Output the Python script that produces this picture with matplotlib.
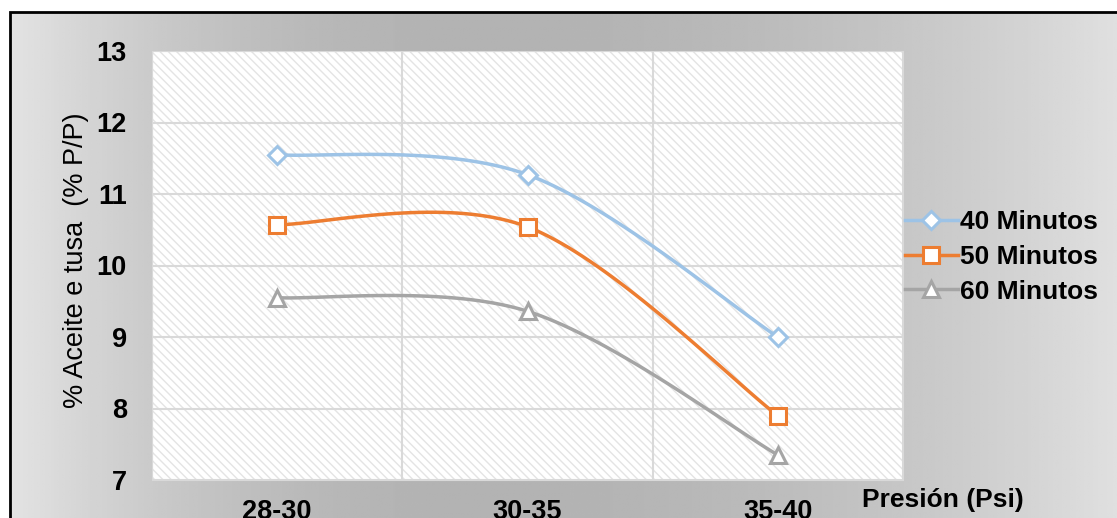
import numpy as np
import matplotlib
matplotlib.use("Agg")
import matplotlib.pyplot as plt
from matplotlib.patches import Rectangle
from matplotlib.lines import Line2D

plt.rcParams['font.family'] = ['Liberation Sans', 'DejaVu Sans']
plt.rcParams['hatch.color'] = '#e4e4e4'
plt.rcParams['hatch.linewidth'] = 1.0

categories = ['28-30', '30-35', '35-40']
series_names = ['40 Minutos', '50 Minutos', '60 Minutos']
min40 = [11.55, 11.27, 9.00]
min50 = [10.57, 10.54, 7.90]
min60 = [9.55, 9.36, 7.35]
y_ticks = [7, 8, 9, 10, 11, 12, 13]

colors = ['#9dc3e6', '#ed7d31', '#a5a5a5']
markers = ['D', 's', '^']
msizes = [9, 12, 12]


def smooth(x, y, n=40):
    # catmull-rom style bezier like excel's smoothed lines
    x = np.asarray(x, float)
    y = np.asarray(y, float)
    px = np.concatenate([[x[0]], x, [x[-1]]])
    py = np.concatenate([[y[0]], y, [y[-1]]])
    xs, ys = [], []
    t = np.linspace(0, 1, n)
    for i in range(1, len(px) - 2):
        p0 = np.array([px[i], py[i]])
        p3 = np.array([px[i + 1], py[i + 1]])
        p1 = p0 + (np.array([px[i + 1], py[i + 1]]) - np.array([px[i - 1], py[i - 1]])) / 6
        p2 = p3 - (np.array([px[i + 2], py[i + 2]]) - np.array([px[i], py[i]])) / 6
        b = ((1 - t) ** 3)[:, None] * p0 + (3 * (1 - t) ** 2 * t)[:, None] * p1 \
            + (3 * (1 - t) * t ** 2)[:, None] * p2 + (t ** 3)[:, None] * p3
        xs.append(b[:, 0])
        ys.append(b[:, 1])
    return np.concatenate(xs), np.concatenate(ys)


fig = plt.figure(figsize=(11.17, 5.18), dpi=100)

# grey gradient background with black frame
bg = fig.add_axes([0, 0, 1, 1], zorder=-10)
gx = np.linspace(0, 1, 400)
shade = 0.70 + 0.19 * ((gx - 0.42) / 0.58) ** 2
shade[gx < 0.42] = 0.70 + 0.19 * ((gx[gx < 0.42] - 0.42) / 0.42) ** 2
img = np.tile(shade, (50, 1))
bg.imshow(img, cmap='gray', vmin=0, vmax=1, aspect='auto',
          extent=[10 / 1117, 1.02, 0, 1 - 12 / 518])
bg.add_patch(Rectangle((10 / 1117, -0.05), 1.1, 1.05 - 12 / 518,
                       fill=False, edgecolor='black', linewidth=2))
bg.set_xlim(0, 1)
bg.set_ylim(0, 1)
bg.axis('off')

ax = fig.add_axes([152 / 1117, 1 - 480 / 518, 751 / 1117, 429 / 518])
ax.set_facecolor('white')
ax.add_patch(Rectangle((0, 0), 1, 1, transform=ax.transAxes, facecolor='none',
                       edgecolor='#e4e4e4', linewidth=0, hatch='\\\\\\\\', zorder=0))

xpos = np.arange(1, len(categories) + 1)
for vals, name, c, m, ms in zip([min40, min50, min60], series_names, colors, markers, msizes):
    sx, sy = smooth(xpos, vals)
    ax.plot(sx, sy, color=c, linewidth=2.5, zorder=3)
    ax.plot(xpos, vals, linestyle='none', marker=m, markersize=ms,
            markerfacecolor='white', markeredgecolor=c, markeredgewidth=2.2, zorder=4)

ax.set_xlim(0.5, len(categories) + 0.5)
ax.set_ylim(7, 13)
ax.set_yticks(y_ticks)
ax.set_xticks(xpos)
ax.set_xticklabels(categories)
ax.set_xticks(np.arange(0.5, len(categories) + 1), minor=True)
ax.grid(True, which='major', axis='y', color='#d9d9d9', linewidth=1.5, zorder=1)
ax.grid(True, which='minor', axis='x', color='#d9d9d9', linewidth=1.5, zorder=1)
ax.set_axisbelow(True)
ax.tick_params(which='both', length=0)
ax.tick_params(axis='y', pad=18, labelsize=19.5)
ax.tick_params(axis='x', pad=14, labelsize=19.5)
for lab in ax.get_xticklabels() + ax.get_yticklabels():
    lab.set_fontweight('bold')
for s in ax.spines.values():
    s.set_color('#d9d9d9')

fig.text(76 / 1117, 1 - 260 / 518, '% Aceite e tusa  (% P/P)', rotation=90,
         ha='center', va='center', fontsize=19.5)
fig.text(943 / 1117, 1 - 500 / 518, 'Presión (Psi)', ha='center', va='center',
         fontsize=19, fontweight='bold')

handles = [Line2D([], [], color=c, linewidth=2.5, marker=m, markersize=ms,
                  markerfacecolor='white', markeredgecolor=c, markeredgewidth=2.2)
           for c, m, ms in zip(colors, markers, msizes)]
leg = fig.legend(handles, series_names, loc='center left',
                 bbox_to_anchor=(905 / 1117, 1 - 257 / 518), frameon=False,
                 prop={'weight': 'bold', 'size': 19}, handlelength=2.0,
                 handletextpad=0.1, labelspacing=0.4, borderaxespad=0,
                 borderpad=0)

fig.savefig('out.png', dpi=100)
